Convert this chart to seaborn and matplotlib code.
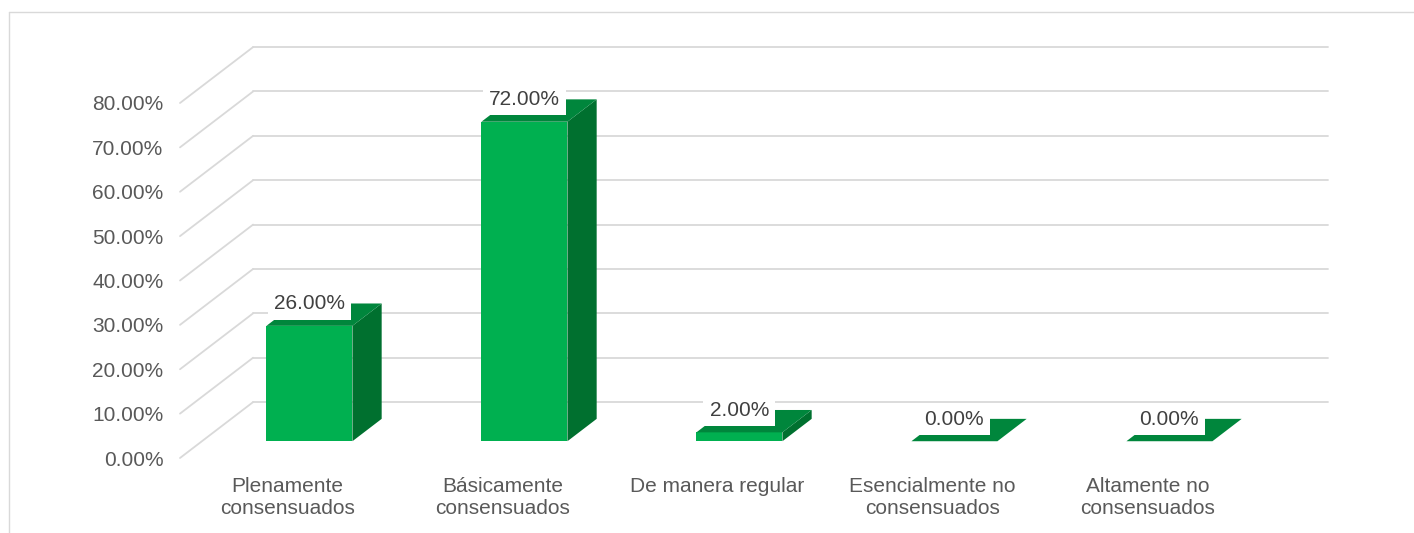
import matplotlib.pyplot as plt
import seaborn as sns
from matplotlib.lines import Line2D
from matplotlib.patches import Polygon

sns.set_theme(style="white")
plt.rcParams["font.family"] = ["Liberation Sans", "DejaVu Sans"]

CATEGORIES = [
    "Plenamente\nconsensuados",
    "Básicamente\nconsensuados",
    "De manera regular",
    "Esencialmente no\nconsensuados",
    "Altamente no\nconsensuados",
]
VALUES = [26.0, 72.0, 2.0, 0.0, 0.0]
Y_TICKS = [0, 10, 20, 30, 40, 50, 60, 70, 80]

FRONT = "#00B050"
SIDE = "#00702F"
TOP = "#00863C"
GRID = "#D9D9D9"

# oblique depth offset (full depth of the plot box) in data units
DEPTH_X = 0.34
DEPTH_Y = 12.6
BAR_FRONT = 0.3
BAR_DEPTH = 0.4

W, H = 1414, 533
fig = plt.figure(figsize=(W / 100, H / 100), dpi=100)
ax = fig.add_axes([180 / W, (H - 458) / H, 1075 / W, 355 / H])

sns.barplot(x=CATEGORIES, y=VALUES, color=FRONT, saturation=1, width=0.4, linewidth=0,
            ax=ax, zorder=3)
ax.set_xlim(-0.5, len(CATEGORIES) - 0.5)
ax.set_ylim(0, 80)

# back wall and side wall gridlines
for t in Y_TICKS:
    ax.add_line(Line2D([-0.5 + DEPTH_X, len(CATEGORIES) - 0.5 + DEPTH_X], [t + DEPTH_Y, t + DEPTH_Y],
                       color=GRID, lw=1.3, clip_on=False, zorder=1))
    ax.add_line(Line2D([-0.5, -0.5 + DEPTH_X], [t, t + DEPTH_Y],
                       color=GRID, lw=1.3, clip_on=False, zorder=1))

# push bars into depth and add side and top faces
dx0, dy0 = BAR_FRONT * DEPTH_X, BAR_FRONT * DEPTH_Y
dx, dy = BAR_DEPTH * DEPTH_X, BAR_DEPTH * DEPTH_Y
for patch, val in zip(ax.patches, VALUES):
    patch.set_x(patch.get_x() + dx0)
    patch.set_y(dy0)
    patch.set_clip_on(False)
    x0, w, h = patch.get_x(), patch.get_width(), patch.get_height()
    y0 = dy0
    side = [(x0 + w, y0), (x0 + w + dx, y0 + dy), (x0 + w + dx, y0 + h + dy), (x0 + w, y0 + h)]
    top = [(x0, y0 + h), (x0 + w, y0 + h), (x0 + w + dx, y0 + h + dy), (x0 + dx, y0 + h + dy)]
    ax.add_patch(Polygon(side, closed=True, facecolor=SIDE, edgecolor="none", clip_on=False, zorder=3))
    ax.add_patch(Polygon(top, closed=True, facecolor=TOP, edgecolor="none", clip_on=False, zorder=3))
    ax.annotate(f"{val:.2f}%", xy=(x0 + w / 2, y0 + h), xytext=(0, 22), textcoords="offset pixels",
                ha="center", va="center", fontsize=15, color="#404040", zorder=5,
                bbox=dict(boxstyle="square,pad=0.3", facecolor="white", edgecolor="none"),
                annotation_clip=False)

ax.set_yticks(Y_TICKS)
ax.set_yticklabels([f"{t:.2f}%" for t in Y_TICKS])
ax.tick_params(axis="y", length=0, pad=12, labelsize=15, labelcolor="#595959")
ax.tick_params(axis="x", length=0, pad=14, labelsize=15, labelcolor="#595959")
for lbl in ax.get_xticklabels():
    lbl.set_linespacing(1.2)
ax.set_xlabel("")
ax.set_ylabel("")
sns.despine(ax=ax, left=True, bottom=True)
ax.patch.set_alpha(0)

# chart area frame (top and left edges visible)
fig.add_artist(Line2D([9 / W, 9 / W], [0, 1 - 12 / H], color=GRID, lw=1))
fig.add_artist(Line2D([9 / W, 1], [1 - 12 / H, 1 - 12 / H], color=GRID, lw=1))

fig.savefig("out.png", dpi=100)
